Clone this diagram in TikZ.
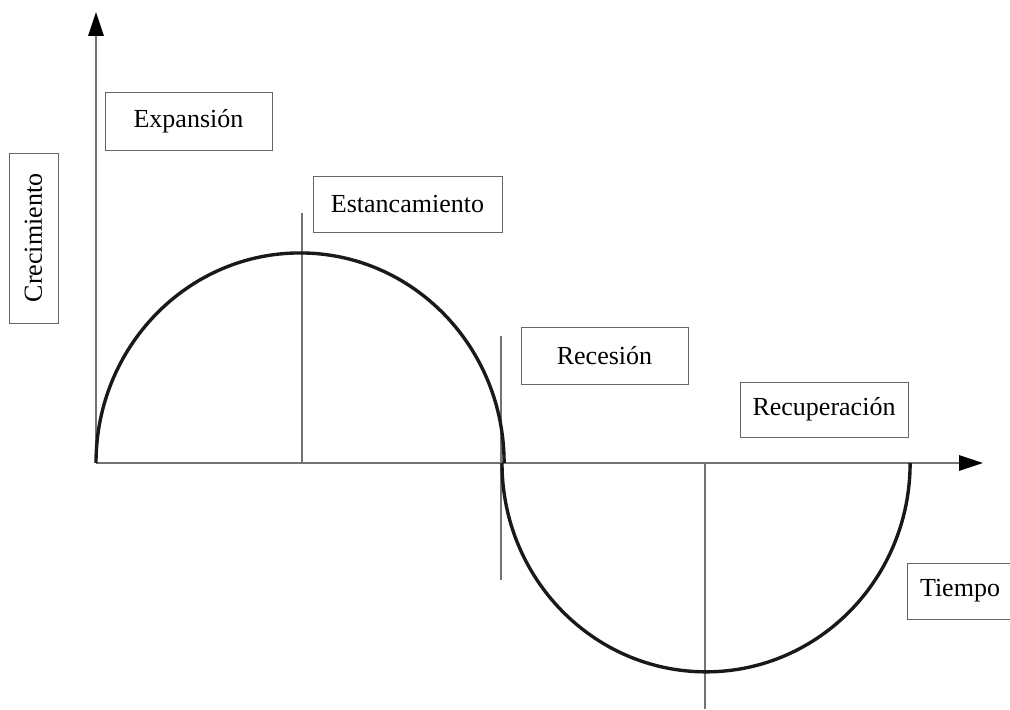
\documentclass[tikz,border=0pt]{standalone}
\usepackage{fontspec}
\setmainfont{Liberation Serif}
\usetikzlibrary{arrows.meta}
\tikzset{
  phase/.style={draw=black!60, line width=0.6pt, font=\fontsize{18.5}{20}\selectfont, inner sep=0pt},
  guide/.style={draw=black!55, line width=0.9pt},
  cycle/.style={draw=black!90, line width=2.4pt},
  tip/.style={-{Triangle[length=17pt,width=11pt,color=black]}}
}
\begin{document}
\begin{tikzpicture}[x=0.025cm,y=0.025cm]
\useasboundingbox (0,0) rectangle (1010,709);
% axes
\coordinate (O) at (96,246);
\coordinate (ytop) at (96,697);
\coordinate (xend) at (983,246);
\draw[guide,tip] (O) -- (ytop);
\draw[guide,tip] (O) -- (xend);
% vertical markers
\draw[guide] (302,496) -- (302,246);
\draw[guide] (501,373) -- (501,129);
\draw[guide] (705,246) -- (705,0);
% cycle
\draw[cycle] (O) arc[start angle=180, end angle=0, x radius=5.1cm, y radius=5.25cm];
\draw[cycle] (502,246) arc[start angle=180, end angle=360, x radius=5.1cm, y radius=5.22cm];
% labels
\node[phase, minimum width=4.175cm, minimum height=1.45cm] (expansion) at (188.5,588) {Expansión};
\node[phase, minimum width=4.725cm, minimum height=1.4cm] (stagnation) at (407.5,505) {Estancamiento};
\node[phase, minimum width=4.175cm, minimum height=1.425cm] (recession) at (604.5,353.5) {Recesión};
\node[phase, minimum width=4.2cm, minimum height=1.375cm] (recovery) at (824,299.5) {Recuperación};
\node[phase, minimum width=2.65cm, minimum height=1.4cm] (time) at (960,118) {Tiempo};
\node[phase, rotate=90, minimum width=4.25cm, minimum height=1.225cm] (growth) at (33.5,471) {Crecimiento};
\end{tikzpicture}
\end{document}
